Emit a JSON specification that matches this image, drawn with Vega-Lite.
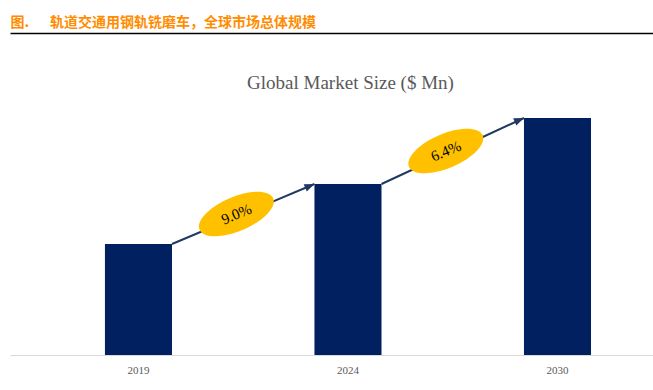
{
  "$schema": "https://vega.github.io/schema/vega-lite/v6.json",
  "autosize": "none",
  "width": 643,
  "height": 250,
  "padding": {"left": 10, "top": 105, "right": 0, "bottom": 35},
  "background": "white",
  "config": {"view": {"stroke": null}},
  "datasets": {
    "bars": [
      {"year": "2019", "value": 111},
      {"year": "2024", "value": 171},
      {"year": "2030", "value": 237}
    ],
    "arrows": [
      {"from": "2019", "to": "2024", "start": 111, "end": 171, "cagr": "9.0%"},
      {"from": "2024", "to": "2030", "start": 171, "end": 237, "cagr": "6.4%"}
    ]
  },
  "resolve": {"axis": {"x": "independent"}},
  "layer": [
    {
      "data": {"name": "bars"},
      "mark": {"type": "bar", "color": "#002060"},
      "encoding": {
        "x": {
          "field": "year", "type": "nominal", "sort": null,
          "scale": {"paddingInner": 0.68, "paddingOuter": 0.3745, "align": 0.605},
          "axis": {
            "title": null, "labelAngle": 0, "ticks": false, "grid": false,
            "domainColor": "#d9d9d9", "domainWidth": 1,
            "labelFont": "Liberation Serif", "labelFontSize": 11, "labelColor": "#595959",
            "labelPadding": 9
          }
        },
        "y": {
          "field": "value", "type": "quantitative",
          "scale": {"domain": [0, 250], "nice": false, "zero": true},
          "axis": null
        }
      }
    },
    {
      "data": {"name": "arrows"},
      "mark": {"type": "rule", "color": "#1F3864", "strokeWidth": 2},
      "encoding": {
        "x": {
          "field": "from", "type": "nominal", "bandPosition": 1,
          "axis": {
            "orient": "top", "offset": 72, "labels": false, "ticks": false, "grid": false,
            "domain": true, "domainColor": "#000000", "domainWidth": 1.5,
            "title": "图.\u3000\u2002轨道交通用钢轨铣磨车，全球市场总体规模",
            "titleAnchor": "start", "titleAlign": "left",
            "titleFont": "Noto Sans CJK SC", "titleFontSize": 14, "titleFontWeight": "bold",
            "titleColor": "#FF8C00", "titlePadding": 4
          }
        },
        "x2": {"field": "to", "bandPosition": 0},
        "y": {"field": "start", "type": "quantitative"},
        "y2": {"field": "end"}
      }
    },
    {
      "data": {"name": "arrows"},
      "mark": {
        "type": "point", "shape": "M 0 0 L -2 -0.8 L -2 0.8 Z",
        "filled": true, "color": "#1F3864", "opacity": 1, "size": 100, "angle": 337
      },
      "encoding": {
        "x": {
          "field": "to", "type": "nominal", "bandPosition": 0,
          "axis": {
            "orient": "top", "offset": 0, "labels": false, "ticks": false, "grid": false,
            "domain": false,
            "title": "Global Market Size ($ Mn)",
            "titleFont": "Liberation Serif", "titleFontSize": 19, "titleFontWeight": "normal",
            "titleColor": "#595959", "titlePadding": 13, "titleX": 340
          }
        },
        "y": {"field": "end", "type": "quantitative"}
      }
    },
    {
      "data": {"name": "arrows"},
      "transform": [{"fold": ["start", "end"], "as": ["k", "v"]}],
      "mark": {
        "type": "point", "shape": "M -1 0 A 1 0.43 0 1 1 1 0 A 1 0.43 0 1 1 -1 0 Z",
        "filled": true, "color": "#FFC000", "opacity": 1, "size": 6400, "angle": 337
      },
      "encoding": {
        "x": {"field": "from", "type": "nominal", "bandPosition": 1.96, "axis": null},
        "y": {"field": "v", "type": "quantitative", "aggregate": "mean"}
      }
    },
    {
      "data": {"name": "arrows"},
      "transform": [{"fold": ["start", "end"], "as": ["k", "v"]}],
      "mark": {
        "type": "text", "font": "Liberation Serif", "fontSize": 15,
        "color": "#000000", "angle": 337, "align": "center", "baseline": "middle"
      },
      "encoding": {
        "x": {"field": "from", "type": "nominal", "bandPosition": 1.96, "axis": null},
        "y": {"field": "v", "type": "quantitative", "aggregate": "mean"},
        "text": {"field": "cagr", "type": "nominal"}
      }
    }
  ]
}
